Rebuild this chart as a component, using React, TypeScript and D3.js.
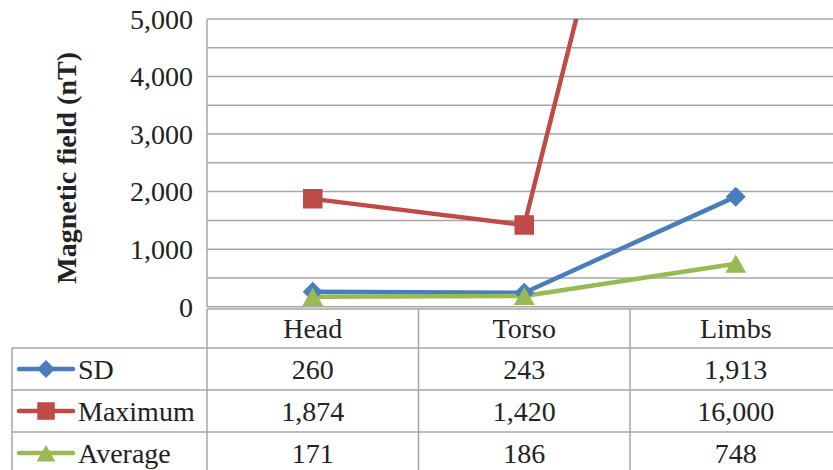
import React from "react";
import * as d3 from "d3";

const categories = ["Head", "Torso", "Limbs"];
const seriesNames = ["SD", "Maximum", "Average"];
const sdValues = [260, 243, 1913];
const maxValues = [1874, 1420, 16000];
const avgValues = [171, 186, 748];
const yTickLabels = [0, 1000, 2000, 3000, 4000, 5000];

const W = 833;
const H = 470;
const FONT = "Liberation Serif, Times New Roman, DejaVu Serif, Noto Serif, serif";

const series = [
  { name: seriesNames[0], values: sdValues, color: "#4a7ebb", symbol: "diamond" },
  { name: seriesNames[1], values: maxValues, color: "#be4b48", symbol: "square" },
  { name: seriesNames[2], values: avgValues, color: "#98b954", symbol: "triangle" },
];

function markerPath(kind: string) {
  if (kind === "diamond") return d3.symbol(d3.symbolSquare, 200)() || "";
  if (kind === "square") return d3.symbol(d3.symbolSquare, 380)() || "";
  return d3.symbol(d3.symbolTriangle, 190)() || "";
}

// shift so the triangle's box, not its centroid, sits on the point
const markerDy = (kind: string) => (kind === "triangle" ? 3 : 0);

export default function App() {
  const plot = { left: 207, right: 841.5, top: 19, bottom: 306.7 };
  const x = d3.scaleBand().domain(categories).range([plot.left, plot.right]);
  const y = d3.scaleLinear().domain([0, 5000]).range([plot.bottom, plot.top]);
  const fmt = d3.format(",");

  const line = d3
    .line<number>()
    .x((_, i) => (x(categories[i]) || 0) + x.bandwidth() / 2)
    .y((d) => y(d));

  const tableLeft = 12;
  const headerTop = 309;
  const rowH = 42;
  const rowTops = [348, 390, 432];
  const textStyle = { fontFamily: FONT, fontSize: 28, fill: "#222" };

  return (
    <div style={{ position: "fixed", left: 0, top: 0 }}>
      <svg width={W} height={H} style={{ display: "block", background: "#fff" }}>
        <defs>
          <clipPath id="plotClip">
            <rect x={plot.left} y={plot.top - 12} width={plot.right - plot.left} height={plot.bottom - plot.top + 24} />
          </clipPath>
          <clipPath id="lineClip">
            <rect x={plot.left} y={plot.top} width={plot.right - plot.left} height={plot.bottom - plot.top + 24} />
          </clipPath>
        </defs>

        {/* horizontal gridlines */}
        {y.ticks(10).map((t) => (
          <line key={t} x1={plot.left} x2={plot.right} y1={y(t)} y2={y(t)} stroke="#a6a6a6" strokeWidth={1.5} />
        ))}
        <line x1={plot.left} x2={plot.left} y1={plot.top} y2={plot.bottom} stroke="#a6a6a6" strokeWidth={1.5} />

        {/* y tick labels */}
        {yTickLabels.map((t) => (
          <text key={t} x={193} y={y(t)} dy="0.35em" textAnchor="end" style={textStyle}>
            {fmt(t)}
          </text>
        ))}

        {/* axis title */}
        <text
          transform={`translate(76, ${(plot.top + plot.bottom) / 2 + 5}) rotate(-90)`}
          textAnchor="middle"
          style={{ ...textStyle, fontWeight: "bold" }}
        >
          Magnetic field (nT)
        </text>

        {/* lines */}
        <g clipPath="url(#lineClip)">
          {series.map((s) => (
            <path key={s.name} d={line(s.values) || ""} fill="none" stroke={s.color} strokeWidth={4.5} strokeLinejoin="round" />
          ))}
        </g>
        <g clipPath="url(#plotClip)">
          {series.map((s) =>
            s.values.map((v, i) => (
              <path
                key={s.name + i}
                d={markerPath(s.symbol)}
                fill={s.color}
                transform={`translate(${(x(categories[i]) || 0) + x.bandwidth() / 2}, ${y(v) + markerDy(s.symbol)}) rotate(${s.symbol === "diamond" ? 45 : 0})`}
              />
            ))
          )}
        </g>

        {/* data table */}
        <g stroke="#a6a6a6" strokeWidth={1.5}>
          <line x1={plot.left} x2={W} y1={headerTop} y2={headerTop} />
          {rowTops.map((t) => (
            <line key={t} x1={tableLeft} x2={W} y1={t} y2={t} />
          ))}
          <line x1={tableLeft} x2={tableLeft} y1={rowTops[0]} y2={H} />
          {categories.map((c) => (
            <line key={c} x1={x(c) || 0} x2={x(c) || 0} y1={headerTop} y2={H} />
          ))}
        </g>
        {categories.map((c) => (
          <text
            key={c}
            x={(x(c) || 0) + x.bandwidth() / 2}
            y={(headerTop + rowTops[0]) / 2}
            dy="0.35em"
            textAnchor="middle"
            style={textStyle}
          >
            {c}
          </text>
        ))}
        {series.map((s, r) => (
          <g key={s.name}>
            <line x1={19} x2={73} y1={rowTops[r] + rowH / 2} y2={rowTops[r] + rowH / 2} stroke={s.color} strokeWidth={4.5} strokeLinecap="round" />
            <path
              d={markerPath(s.symbol)}
              fill={s.color}
              transform={`translate(46, ${rowTops[r] + rowH / 2 + markerDy(s.symbol)}) rotate(${s.symbol === "diamond" ? 45 : 0}) scale(0.9)`}
            />
            <text x={78} y={rowTops[r] + rowH / 2} dy="0.35em" style={textStyle}>
              {s.name}
            </text>
            {s.values.map((v, i) => (
              <text
                key={i}
                x={(x(categories[i]) || 0) + x.bandwidth() / 2}
                y={rowTops[r] + rowH / 2}
                dy="0.35em"
                textAnchor="middle"
                style={textStyle}
              >
                {fmt(v)}
              </text>
            ))}
          </g>
        ))}
      </svg>
    </div>
  );
}
